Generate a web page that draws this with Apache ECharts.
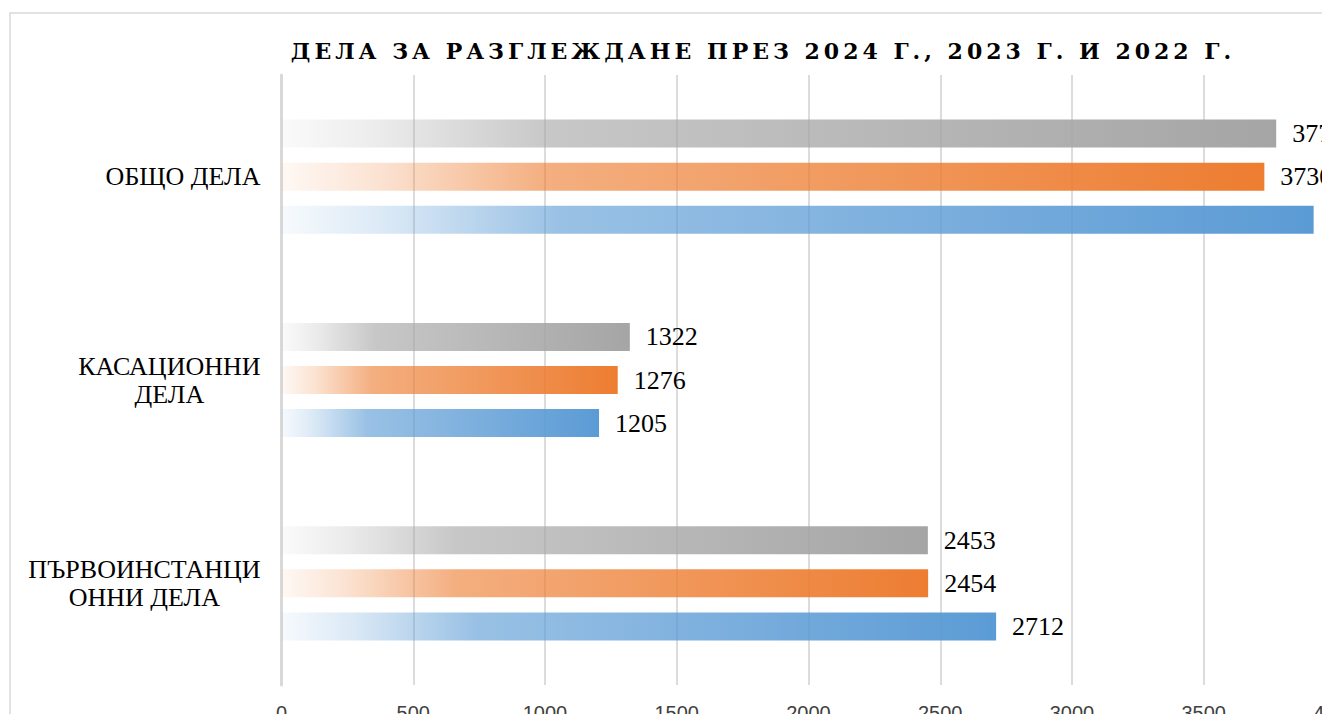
<!DOCTYPE html>
<html>
<head>
<meta charset="utf-8">
<script src="https://cdn.jsdelivr.net/npm/echarts@6/dist/echarts.min.js"></script>
<style>
  html, body { margin: 0; padding: 0; overflow: hidden; background: #fff; width: 1322px; height: 714px; }
  #chart { width: 1350px; height: 740px; }
  /* the title is the only bold text: widen its tracking like the reference */
  #chart text[style*="bold"] { letter-spacing: 4px; }
</style>
</head>
<body>
<div id="chart"></div>
<script>
// ---- data ----
const titleText = 'ДЕЛА ЗА РАЗГЛЕЖДАНЕ ПРЕЗ 2024 Г., 2023 Г. И 2022 Г.';
const categories = ['ПЪРВОИНСТАНЦИОННИ ДЕЛА', 'КАСАЦИОННИ ДЕЛА', 'ОБЩО ДЕЛА'];
const seriesNames = ['2024', '2023', '2022'];
const values2024 = [2453, 1322, 3775];
const values2023 = [2454, 1276, 3730];
const values2022 = [2712, 1205, 3917];
const axisMin = 0, axisMax = 4000, axisStep = 500;

// ---- layout / style ----
const labelLines = {
  'ПЪРВОИНСТАНЦИОННИ ДЕЛА': ['ПЪРВОИНСТАНЦИ', 'ОННИ ДЕЛА'],
  'КАСАЦИОННИ ДЕЛА': ['КАСАЦИОННИ', 'ДЕЛА'],
  'ОБЩО ДЕЛА': ['ОБЩО ДЕЛА']
};
function grad(r, g, b) {
  return {
    type: 'linear', x: 0, y: 0, x2: 1, y2: 0,
    colorStops: [
      { offset: 0, color: `rgba(${r},${g},${b},0.05)` },
      { offset: 0.1, color: `rgba(${r},${g},${b},0.22)` },
      { offset: 0.27, color: `rgba(${r},${g},${b},0.62)` },
      { offset: 1, color: `rgba(${r},${g},${b},1)` }
    ]
  };
}
// series drawn top-to-bottom within each group: 2024 (gray), 2023 (orange), 2022 (blue)
const colors = [grad(165, 165, 165), grad(237, 125, 49), grad(91, 155, 213)];
const dataSets = [values2024, values2023, values2022];

const chart = echarts.init(document.getElementById('chart'), null, { renderer: 'svg' });
chart.setOption({
  animation: false,
  backgroundColor: '#ffffff',
  title: {
    text: titleText,
    left: 763,
    textAlign: 'center',
    top: 40,
    padding: 0,
    textStyle: { fontFamily: 'DejaVu Serif', fontWeight: 'bold', fontSize: 22, color: '#000000' }
  },
  graphic: [{
    type: 'rect', z: -1, silent: true,
    shape: { x: 10, y: 13, width: 1500, height: 900 },
    style: { fill: 'none', stroke: '#d9d9d9', lineWidth: 1.5 }
  }],
  grid: {
    left: 281.5, right: 1350 - 1335.5, top: 75, bottom: 740 - 685,
    containLabel: false, outerBoundsMode: 'none'
  },
  xAxis: {
    type: 'value', min: axisMin, max: axisMax, interval: axisStep,
    axisLine: { show: false }, axisTick: { show: false },
    splitLine: { show: true, lineStyle: { color: '#d0d0d0', width: 1.5 } },
    axisLabel: { fontFamily: 'Liberation Sans', fontSize: 20, color: '#404040', margin: 18, formatter: v => String(v) }
  },
  yAxis: {
    type: 'category', data: categories,
    axisLine: { show: true, lineStyle: { color: '#d9d9d9', width: 3 } },
    axisTick: { show: false },
    axisLabel: {
      margin: 21,
      formatter: v => (labelLines[v] || [v]).map(l => '{c|' + l + '}').join('\n'),
      rich: { c: { align: 'center', fontFamily: 'Liberation Serif', fontSize: 26, lineHeight: 28, color: '#000000' } }
    }
  },
  series: dataSets.map((d, i) => ({
    type: 'bar', name: seriesNames[i], data: d,
    barWidth: 28, barGap: '54%',
    itemStyle: { color: colors[i] },
    label: { show: true, position: 'right', distance: 16, fontFamily: 'Liberation Serif', fontSize: 26, color: '#000000' }
  }))
});
</script>
</body>
</html>
